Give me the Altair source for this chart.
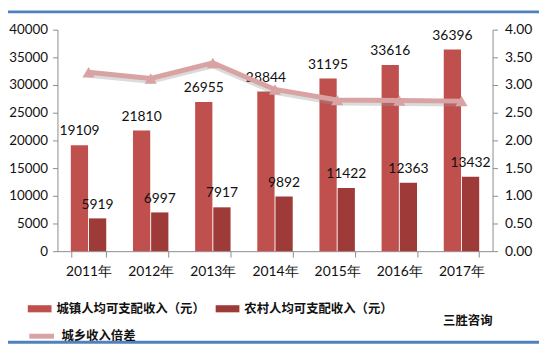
import altair as alt
import pandas as pd

years = ["2011年", "2012年", "2013年", "2014年", "2015年", "2016年", "2017年"]
urban = [19109, 21810, 26955, 28844, 31195, 33616, 36396]
rural = [5919, 6997, 7917, 9892, 11422, 12363, 13432]
ratio = [3.23, 3.12, 3.40, 2.92, 2.73, 2.72, 2.71]
series_names = ["城镇人均可支配收入（元）", "农村人均可支配收入（元）"]
line_name = "城乡收入倍差"
brand = ["三胜咨询"]

bar_colors = ["#C0504D", "#9E3B39"]
line_color = "#D9A3A3"
num_font = "Lato"
cjk = "Noto Sans CJK SC"

bars_df = pd.DataFrame({
    "year": years * 2,
    "series": [series_names[0]] * len(years) + [series_names[1]] * len(years),
    "value": urban + rural,
})
line_df = pd.DataFrame({"year": years, "ratio": ratio, "name": [line_name] * len(years)})
brand_df = pd.DataFrame({"t": brand})
border_df = pd.DataFrame({"k": ["top", "bottom"]})

x_enc = alt.X(
    "year:N", sort=years,
    scale=alt.Scale(paddingInner=0.43, paddingOuter=0.215),
    axis=alt.Axis(title=None, labelAngle=0, tickBand="extent", tickSize=6,
                  labelPadding=8, labelFont=num_font, labelFontSize=14,
                  labelColor="#111111", domainColor="#8c8c8c", tickColor="#8c8c8c"),
)
xoff = alt.XOffset("series:N", sort=series_names, scale=alt.Scale(paddingInner=0.05))
y_left = alt.Scale(domain=[0, 40000])
y_right = alt.Scale(domain=[0, 4])

bars = alt.Chart(bars_df).mark_bar().encode(
    x=x_enc,
    xOffset=xoff,
    y=alt.Y("value:Q", scale=y_left,
            axis=alt.Axis(title=None, orient="left", grid=False, format="d",
                          values=list(range(0, 40001, 5000)), tickSize=5,
                          labelPadding=5, labelFont=num_font, labelFontSize=13.5,
                          labelColor="#111111", domainColor="#8c8c8c",
                          tickColor="#8c8c8c")),
    fill=alt.Fill("series:N", sort=series_names,
                  scale=alt.Scale(domain=series_names, range=bar_colors),
                  legend=alt.Legend(orient="none", legendX=-30, legendY=270,
                                    direction="horizontal", title=None,
                                    symbolType="M-1,-0.3H1V0.3H-1Z", symbolSize=576,
                                    symbolStrokeWidth=0, labelFont=cjk,
                                    labelFontSize=12.5, labelFontWeight="bold",
                                    labelColor="#111111", columnPadding=10,
                                    labelOffset=5, padding=0)),
)

labels = alt.Chart(bars_df).mark_text(
    baseline="bottom", dy=-7, font=num_font, fontSize=14, color="#111111"
).encode(
    x=x_enc,
    xOffset=xoff,
    y=alt.Y("value:Q", scale=y_left, axis=None),
    text=alt.Text("value:Q", format="d"),
)

shadow = alt.Chart(line_df).mark_line(
    strokeWidth=5, color="#999999", opacity=0.35, yOffset=3
).encode(
    x=x_enc,
    y=alt.Y("ratio:Q", scale=y_right, axis=None),
)

line = alt.Chart(line_df).mark_line(strokeWidth=5).encode(
    x=x_enc,
    y=alt.Y("ratio:Q", scale=y_right,
            axis=alt.Axis(title=None, orient="right", grid=False, format=".2f",
                          values=[0, 0.5, 1, 1.5, 2, 2.5, 3, 3.5, 4], tickSize=5,
                          labelPadding=7, labelFont=num_font, labelFontSize=14,
                          labelColor="#111111", domainColor="#8c8c8c",
                          tickColor="#8c8c8c")),
    stroke=alt.Stroke("name:N", scale=alt.Scale(domain=[line_name], range=[line_color]),
                      legend=alt.Legend(orient="none", legendX=-31, legendY=295,
                                        title=None, symbolType="M-1,0H1",
                                        symbolSize=625, symbolStrokeWidth=5,
                                        labelFont=cjk, labelFontSize=12.5,
                                        labelFontWeight="bold", labelColor="#111111",
                                        labelOffset=5, padding=0)),
)

points = alt.Chart(line_df).mark_point(
    shape="triangle-up", filled=True, size=150, color=line_color, opacity=1
).encode(
    x=x_enc,
    y=alt.Y("ratio:Q", scale=y_right, axis=None),
)

brand_txt = alt.Chart(brand_df).mark_text(
    font=cjk, fontSize=12.5, fontWeight="bold", color="#111111"
).encode(x=alt.value(415), y=alt.value(295), text="t:N")

top_border = alt.Chart(border_df).transform_filter("datum.k == 'top'").mark_rule(
    color="#4F81BD", strokeWidth=3
).encode(x=alt.value(-55), x2=alt.value(487), y=alt.value(-18))

bottom_border = alt.Chart(border_df).transform_filter("datum.k == 'bottom'").mark_rule(
    color="#4F81BD", strokeWidth=3
).encode(x=alt.value(-55), x2=alt.value(487), y=alt.value(316))

chart = alt.layer(
    bars, labels, shadow, line, points, brand_txt, top_border, bottom_border
).resolve_scale(y="independent").properties(
    width=440, height=224,
    autosize=alt.AutoSizeParams(type="none"),
    padding={"left": 50, "top": 20, "right": 50, "bottom": 95},
).configure_view(stroke=None)

chart.save("out.html", embed_options={"renderer": "svg", "actions": False})
